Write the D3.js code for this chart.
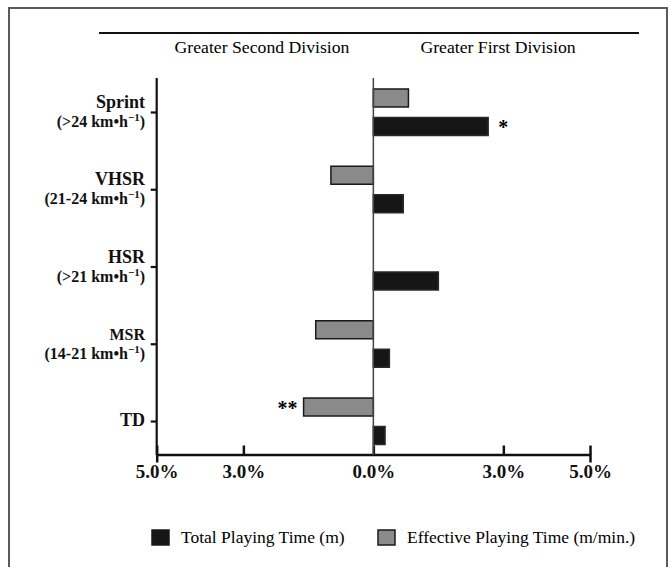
<!DOCTYPE html>
<html>
<head>
<meta charset="utf-8">
<script src="https://cdn.jsdelivr.net/npm/d3@7"></script>
<style>
  body { margin: 0; background: #fff; }
  svg text { font-family: "Liberation Serif", "Times New Roman", serif; }
</style>
</head>
<body>
<script>
// chart data (differences in %)
var categories = ["Sprint", "VHSR", "HSR", "MSR", "TD"];
var subLabels = ["(>24 km•h", "(21-24 km•h", "(>21 km•h", "(14-21 km•h", ""];
var totalValues = [2.65, 0.69, 1.50, 0.37, 0.27];       // Total Playing Time (m)
var effectiveValues = [0.81, -0.98, 0, -1.33, -1.61];    // Effective Playing Time (m/min.)
var totalMarks = ["*", "", "", "", ""];
var effectiveMarks = ["", "", "", "", "**"];
var xTicks = [-5, -3, 0, 3, 5];
var legendLabels = ["Total Playing Time (m)", "Effective Playing Time (m/min.)"];
var sideLabels = ["Greater Second Division", "Greater First Division"];

var W = 669, H = 567;
var colors = {total: "#161616", effective: "#8a8a8a"};

var svg = d3.select("body").append("svg")
  .attr("width", W)
  .attr("height", H);

// outer frame
svg.append("rect")
  .attr("x", 9).attr("y", 8)
  .attr("width", 658).attr("height", 620)
  .attr("fill", "none")
  .attr("stroke", "#5a5a5a")
  .attr("stroke-width", 2);

var x = d3.scaleLinear()
  .domain([-5, 5])
  .range([156.7, 590]);

var y = d3.scalePoint()
  .domain(categories)
  .range([78, 455])
  .padding(0.44);

// header line + side labels
svg.append("line")
  .attr("x1", 99).attr("x2", 639)
  .attr("y1", 33).attr("y2", 33)
  .attr("stroke", "#111")
  .attr("stroke-width", 2.2);

svg.selectAll(".side")
  .data(sideLabels)
  .enter()
  .append("text")
  .attr("class", "side")
  .attr("x", function(d, i) { return i == 0 ? 262 : 498; })
  .attr("y", 53)
  .attr("text-anchor", "middle")
  .style("font-size", "17.7px")
  .text(function(d) { return d; });

// x axis
var xAxis = d3.axisBottom(x)
  .tickValues(xTicks)
  .tickSize(8)
  .tickFormat(function(d) { return Math.abs(d).toFixed(1) + "%"; });

var gx = svg.append("g")
  .attr("transform", "translate(0,454.5)")
  .call(xAxis);
gx.select(".domain").attr("stroke", "#111").attr("stroke-width", 2.5);
gx.selectAll(".tick line")
  .attr("stroke", "#111").attr("stroke-width", 2.5)
  .attr("y1", -9).attr("y2", 0);
gx.selectAll(".tick text")
  .attr("y", 10)
  .attr("fill", "#111")
  .style("font-family", "Liberation Serif, serif")
  .style("font-size", "19px")
  .style("font-weight", "bold");

// y axis (ticks only, labels drawn by hand for two lines)
var yAxis = d3.axisLeft(y).tickSize(6).tickSizeOuter(0).tickFormat("");
var gy = svg.append("g")
  .attr("transform", "translate(156.7,0)")
  .call(yAxis);
gy.select(".domain").attr("d", "M0,78V455").attr("stroke", "#111").attr("stroke-width", 2.2);
gy.selectAll(".tick line").attr("stroke", "#111").attr("stroke-width", 2.2);

// category labels
var labels = svg.selectAll(".cat")
  .data(categories)
  .enter()
  .append("g")
  .attr("class", "cat");

labels.append("text")
  .attr("x", 145)
  .attr("y", function(d, i) { return subLabels[i] ? y(d) - 4 : y(d) + 5; })
  .attr("text-anchor", "end")
  .style("font-size", function(d) { return d == "MSR" ? "16px" : "18px"; })
  .style("font-weight", "bold")
  .attr("fill", "#111")
  .text(function(d) { return d; });

var sub = labels.filter(function(d, i) { return subLabels[i] != ""; })
  .append("text")
  .attr("x", 145)
  .attr("y", function(d) { return y(d) + 15; })
  .attr("text-anchor", "end")
  .style("font-size", "16px")
  .style("font-weight", "bold")
  .attr("fill", "#111");
sub.append("tspan").text(function(d) { return subLabels[categories.indexOf(d)]; });
sub.append("tspan").attr("dy", -6).style("font-size", "11px").text("\u22121");
sub.append("tspan").attr("dy", 6).text(")");

// bars
var barH = 18;

svg.selectAll(".eff")
  .data(categories)
  .enter()
  .append("rect")
  .attr("class", "eff")
  .filter(function(d, i) { return effectiveValues[i] != 0; })
  .attr("x", function(d) { return Math.min(x(0), x(effectiveValues[categories.indexOf(d)])); })
  .attr("y", function(d) { return y(d) - 23; })
  .attr("width", function(d) { return Math.abs(x(effectiveValues[categories.indexOf(d)]) - x(0)); })
  .attr("height", barH)
  .attr("fill", colors.effective)
  .attr("stroke", "#1a1a1a")
  .attr("stroke-width", 1.5);

svg.selectAll(".tot")
  .data(categories)
  .enter()
  .append("rect")
  .attr("class", "tot")
  .attr("x", function(d, i) { return Math.min(x(0), x(totalValues[i])); })
  .attr("y", function(d) { return y(d) + 5.5; })
  .attr("width", function(d, i) { return Math.abs(x(totalValues[i]) - x(0)); })
  .attr("height", barH)
  .attr("fill", colors.total)
  .attr("stroke", "#2a2a2a")
  .attr("stroke-width", 1.5);

// zero line
svg.append("line")
  .attr("x1", x(0)).attr("x2", x(0))
  .attr("y1", 78).attr("y2", 455)
  .attr("stroke", "#444")
  .attr("stroke-width", 1.5);

// significance markers
svg.selectAll(".mark-t")
  .data(categories)
  .enter()
  .append("text")
  .attr("class", "mark-t")
  .attr("x", function(d, i) { return x(totalValues[i]) + 10; })
  .attr("y", function(d) { return y(d) + 22; })
  .style("font-size", "20px")
  .style("font-weight", "bold")
  .text(function(d, i) { return totalMarks[i]; });

svg.selectAll(".mark-e")
  .data(categories)
  .enter()
  .append("text")
  .attr("class", "mark-e")
  .attr("x", function(d, i) { return x(effectiveValues[i]) - 6; })
  .attr("y", function(d) { return y(d) - 6; })
  .attr("text-anchor", "end")
  .style("font-size", "20px")
  .style("font-weight", "bold")
  .text(function(d, i) { return effectiveMarks[i]; });

// legend
var legendX = [152, 378];
var legendColors = [colors.total, colors.effective];
var leg = svg.selectAll(".leg")
  .data(legendLabels)
  .enter()
  .append("g")
  .attr("class", "leg")
  .attr("transform", function(d, i) { return "translate(" + legendX[i] + ",530)"; });

leg.append("rect")
  .attr("width", 17).attr("height", 15)
  .attr("fill", function(d, i) { return legendColors[i]; })
  .attr("stroke", "#1a1a1a")
  .attr("stroke-width", 1.5);

leg.append("text")
  .attr("x", 29)
  .attr("y", 13)
  .style("font-size", "17.5px")
  .text(function(d) { return d; });
</script>
</body>
</html>
